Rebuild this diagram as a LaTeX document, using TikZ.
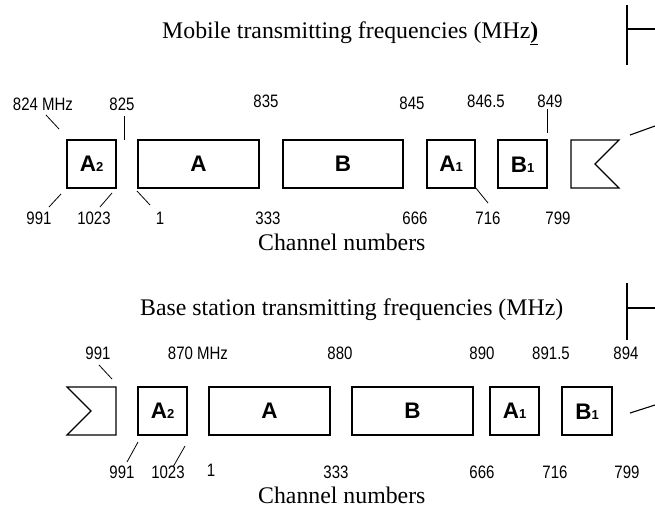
\documentclass[tikz,border=0pt]{standalone}
\usepackage{fontspec}
\setmainfont{Liberation Serif}
\setsansfont{Liberation Sans}
\usetikzlibrary{positioning}

\tikzset{
  band/.style={draw, line width=1.2pt},
  tick/.style={line width=0.8pt},
  freq/.style={font=\sffamily\fontsize{15}{15}\selectfont, inner sep=0pt},
  chan/.style={font=\sffamily\fontsize{15}{15}\selectfont, inner sep=0pt},
  heading/.style={font=\fontsize{23.8}{24}\selectfont, inner sep=0pt, anchor=base west},
  lbl/.style={font=\sffamily\bfseries\fontsize{22.5}{22.5}\selectfont, inner sep=0pt}
}
\newcommand{\tall}[1]{\scalebox{1}[1.2]{#1}}
\newcommand{\sub}[1]{{\fontsize{13}{13}\selectfont\textbf{#1}}}

\begin{document}
\begin{tikzpicture}[x=1pt, y=-1pt]
\useasboundingbox (0,0) rectangle (655,512);
	% Mobile transmitting
\node [heading] (t1) at (162,38) {Mobile transmitting frequencies (MHz\underline{\textbf{)}}};
\draw [tick, line width=1.1pt] (627,5) -- (627,65);
\coordinate (b1) at (627,29);
\coordinate (b1e) at (655,29);
\draw [tick, line width=1.1pt] (b1) -- (b1e);
\draw [band] (67,140) rectangle (116,188) node [lbl, midway] (ma2) {A\sub{2}};
\draw [band] (138,140) rectangle (259,188) node [lbl, midway] (ma) {A};
\draw [band] (283,140) rectangle (403,188) node [lbl, midway] (mb) {B};
\draw [band] (427,140) rectangle (475,188) node [lbl, midway] (ma1) {A\sub{1}};
\draw [band] (498,140) rectangle (547,188) node [lbl, midway, yshift=-1pt] (mb1) {B\sub{1}};
\draw [band, line join=miter] (571,140) -- (619,140) -- (595,164) -- (619,188) -- (571,188) -- cycle;
\coordinate (mr1) at (630,135);
\coordinate (mr2) at (655,126);
\draw [tick, line width=1.1pt] (mr1) -- (mr2);
\node [freq] (f1) at (43,104) {\tall{824 MHz}};
\node [freq] (f2) at (122,104) {\tall{825}};
\node [freq] (f3) at (266,101) {\tall{835}};
\node [freq] (f4) at (412,103) {\tall{845}};
\node [freq] (f5) at (486,101) {\tall{846.5}};
\node [freq] (f6) at (550,101) {\tall{849}};
\draw [tick] (46,115) -- (59,129);
\draw [tick] (124,116) -- (124,140);
\draw [tick] (547,109) -- (547,133);
\node [chan] (c1) at (39,218) {\tall{991}};
\node [chan] (c2) at (94,218) {\tall{1023}};
\node [chan] (c3) at (160,218) {\tall{1}};
\node [chan] (c4) at (268,218) {\tall{333}};
\node [chan] (c5) at (415,218) {\tall{666}};
\node [chan] (c6) at (488,218) {\tall{716}};
\node [chan] (c7) at (558,218) {\tall{799}};
\draw [tick] (49,207) -- (61,194);
\draw [tick] (100,207) -- (112,193);
\draw [tick] (137,191) -- (150,205);
\draw [tick] (475,187) -- (488,203);
\node [heading] (n1) at (258,250) {Channel numbers};

	% Base station transmitting
\node [heading] (t2) at (140,315) {Base station transmitting frequencies (MHz)};
\draw [tick, line width=1.1pt] (627,283) -- (627,340);
\coordinate (b2) at (627,308);
\coordinate (b2e) at (655,308);
\draw [tick, line width=1.1pt] (b2) -- (b2e);
\draw [band, line join=miter] (67,387) -- (116,387) -- (116,435) -- (67,435) -- (91,411) -- cycle;
\draw [band] (138,387) rectangle (187,435) node [lbl, midway] (ba2) {A\sub{2}};
\draw [band] (209,387) rectangle (330,435) node [lbl, midway] (ba) {A};
\draw [band] (352,387) rectangle (473,435) node [lbl, midway] (bb) {B};
\draw [band] (490,387) rectangle (539,435) node [lbl, midway] (ba1) {A\sub{1}};
\draw [band] (562,387) rectangle (612,435) node [lbl, midway, yshift=-1pt] (bb1) {B\sub{1}};
\coordinate (br1) at (630,413);
\coordinate (br2) at (655,405);
\draw [tick, line width=1.1pt] (br1) -- (br2);
\node [freq] (g1) at (98,353) {\tall{991}};
\node [freq] (g2) at (198,353) {\tall{870 MHz}};
\node [freq] (g3) at (340,353) {\tall{880}};
\node [freq] (g4) at (482,353) {\tall{890}};
\node [freq] (g5) at (551,353) {\tall{891.5}};
\node [freq] (g6) at (626,353) {\tall{894}};
\draw [tick] (99,365) -- (112,379);
\node [chan] (d1) at (122,472) {\tall{991}};
\node [chan] (d2) at (168,472) {\tall{1023}};
\node [chan] (d3) at (211,470) {\tall{1}};
\node [chan] (d4) at (336,472) {\tall{333}};
\node [chan] (d5) at (482,472) {\tall{666}};
\node [chan] (d6) at (555,472) {\tall{716}};
\node [chan] (d7) at (627,472) {\tall{799}};
\draw [tick] (127,462) -- (138,442);
\draw [tick] (173,467) -- (185,446);
\node [heading] (n2) at (258,503) {Channel numbers};
\end{tikzpicture}
\end{document}
